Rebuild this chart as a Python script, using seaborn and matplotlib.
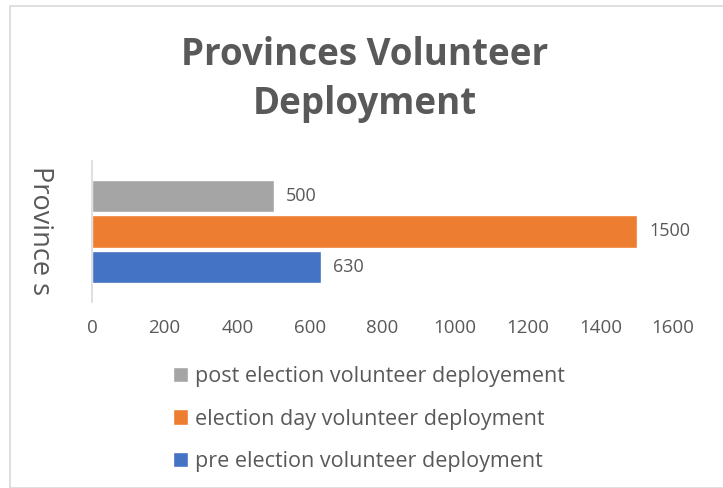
import matplotlib
matplotlib.use("Agg")
import matplotlib.pyplot as plt
import seaborn as sns
import pandas as pd
from matplotlib.patches import Rectangle

categories = ["Provinces"]
series = ["post election volunteer deployement",
          "election day volunteer deployment",
          "pre election volunteer deployment"]
values = [500, 1500, 630]
colors = ["#A5A5A5", "#ED7D31", "#4472C4"]
x_ticks = [0, 200, 400, 600, 800, 1000, 1200, 1400, 1600]

df = pd.DataFrame({"category": categories * len(series),
                   "series": series,
                   "value": values})

sns.set_theme(style="white")
plt.rcParams["font.family"] = ["Open Sans", "DejaVu Sans"]
txt = "#595959"

fig = plt.figure(figsize=(7.23, 4.88), dpi=100)
ax = fig.add_axes([92/723, 1-302/488, (673-92)/723, 141/488])

sns.barplot(data=df, y="category", x="value", hue="series", hue_order=series,
            palette=colors, orient="h", width=0.75, gap=0.09, ax=ax,
            saturation=1, legend=True)

for c in ax.containers:
    ax.bar_label(c, padding=9, fontsize=13, color=txt)

ax.set_xlim(0, 1600)
ax.set_ylim(0.5, -0.5)
ax.set_xticks(x_ticks)
ax.set_xticklabels([str(t) for t in x_ticks], fontsize=13.5, color=txt)
ax.tick_params(axis="x", length=0, pad=12)
ax.set_yticks([])
ax.set_xlabel("")
ax.set_ylabel("")
for s in ["top", "right", "bottom"]:
    ax.spines[s].set_visible(False)
ax.spines["left"].set_color("#D9D9D9")
ax.spines["left"].set_linewidth(1.2)

handles, labels = ax.get_legend_handles_labels()
ax.get_legend().remove()
fig.legend(handles, labels, loc="center left",
           bbox_to_anchor=(162/723, 1-419/488), frameon=False,
           fontsize=15.5, labelcolor=txt, handlelength=0.72, handleheight=0.72,
           handletextpad=0.3, labelspacing=1.0, borderpad=0)

fig.text(40/723, 1-231/488, "Province s", rotation=-90, ha="center", va="center",
         fontsize=19.5, color=txt)

fig.text(365/723, 1-55/488, "Provinces Volunteer", ha="center", va="center",
         fontsize=26.5, fontweight="bold", color=txt)
fig.text(365/723, 1-104/488, "Deployment", ha="center", va="center",
         fontsize=26.5, fontweight="bold", color=txt)

fig.patches.append(Rectangle((10/723, 0), 1, 1-6/488, transform=fig.transFigure,
                             fill=False, edgecolor="#D9D9D9", linewidth=1.2))

fig.savefig("out.png", dpi=100)
